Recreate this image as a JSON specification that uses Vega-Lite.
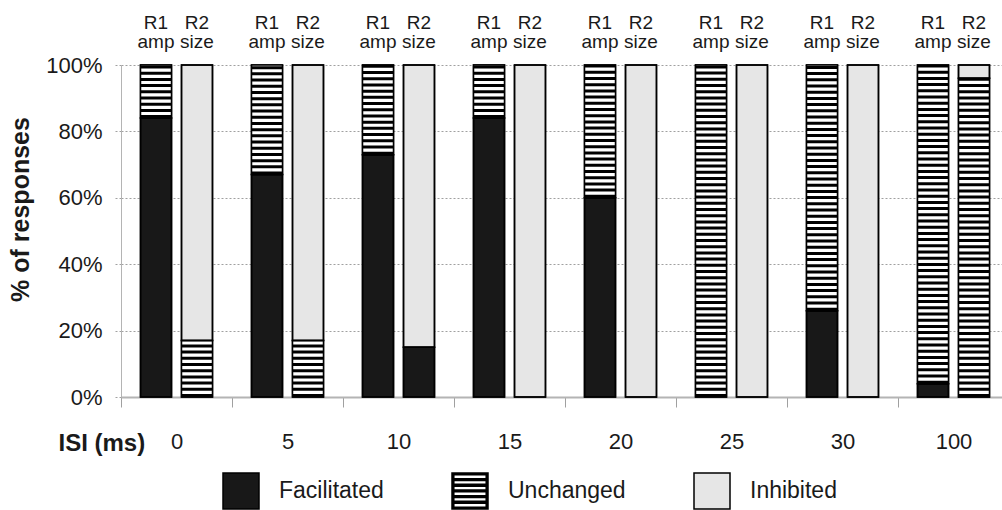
{
  "$schema": "https://vega.github.io/schema/vega-lite/v6.json",
  "width": 881,
  "height": 332,
  "autosize": "none",
  "padding": {"left": 121, "top": 65, "right": 0, "bottom": 113},
  "background": "white",
  "config": {
    "font": "Liberation Sans",
    "view": {"stroke": null},
    "legend": {
      "orient": "none",
      "legendX": 101,
      "legendY": 407,
      "direction": "horizontal",
      "padding": 0,
      "symbolSize": 1296,
      "symbolStrokeWidth": 1.5,
      "symbolOpacity": 1,
      "labelFontSize": 23,
      "labelColor": "#1a1a1a",
      "labelOffset": 19,
      "columnPadding": 65
    }
  },
  "datasets": {
    "bars": [
      {"isi": 0, "measure": "R1 amp", "response": "Facilitated", "pct": 84},
      {"isi": 0, "measure": "R1 amp", "response": "Unchanged", "pct": 16},
      {"isi": 0, "measure": "R2 size", "response": "Unchanged", "pct": 17},
      {"isi": 0, "measure": "R2 size", "response": "Inhibited", "pct": 83},
      {"isi": 5, "measure": "R1 amp", "response": "Facilitated", "pct": 67},
      {"isi": 5, "measure": "R1 amp", "response": "Unchanged", "pct": 33},
      {"isi": 5, "measure": "R2 size", "response": "Unchanged", "pct": 17},
      {"isi": 5, "measure": "R2 size", "response": "Inhibited", "pct": 83},
      {"isi": 10, "measure": "R1 amp", "response": "Facilitated", "pct": 73},
      {"isi": 10, "measure": "R1 amp", "response": "Unchanged", "pct": 27},
      {"isi": 10, "measure": "R2 size", "response": "Facilitated", "pct": 15},
      {"isi": 10, "measure": "R2 size", "response": "Inhibited", "pct": 85},
      {"isi": 15, "measure": "R1 amp", "response": "Facilitated", "pct": 84},
      {"isi": 15, "measure": "R1 amp", "response": "Unchanged", "pct": 16},
      {"isi": 15, "measure": "R2 size", "response": "Inhibited", "pct": 100},
      {"isi": 20, "measure": "R1 amp", "response": "Facilitated", "pct": 60},
      {"isi": 20, "measure": "R1 amp", "response": "Unchanged", "pct": 40},
      {"isi": 20, "measure": "R2 size", "response": "Inhibited", "pct": 100},
      {"isi": 25, "measure": "R1 amp", "response": "Unchanged", "pct": 100},
      {"isi": 25, "measure": "R2 size", "response": "Inhibited", "pct": 100},
      {"isi": 30, "measure": "R1 amp", "response": "Facilitated", "pct": 26},
      {"isi": 30, "measure": "R1 amp", "response": "Unchanged", "pct": 74},
      {"isi": 30, "measure": "R2 size", "response": "Inhibited", "pct": 100},
      {"isi": 100, "measure": "R1 amp", "response": "Facilitated", "pct": 4},
      {"isi": 100, "measure": "R1 amp", "response": "Unchanged", "pct": 96},
      {"isi": 100, "measure": "R2 size", "response": "Unchanged", "pct": 96},
      {"isi": 100, "measure": "R2 size", "response": "Inhibited", "pct": 4}
    ],
    "labels": [
      {"isi": 0, "measure": "R1 amp"}, {"isi": 0, "measure": "R2 size"},
      {"isi": 5, "measure": "R1 amp"}, {"isi": 5, "measure": "R2 size"},
      {"isi": 10, "measure": "R1 amp"}, {"isi": 10, "measure": "R2 size"},
      {"isi": 15, "measure": "R1 amp"}, {"isi": 15, "measure": "R2 size"},
      {"isi": 20, "measure": "R1 amp"}, {"isi": 20, "measure": "R2 size"},
      {"isi": 25, "measure": "R1 amp"}, {"isi": 25, "measure": "R2 size"},
      {"isi": 30, "measure": "R1 amp"}, {"isi": 30, "measure": "R2 size"},
      {"isi": 100, "measure": "R1 amp"}, {"isi": 100, "measure": "R2 size"}
    ]
  },
  "encoding": {
    "x": {
      "field": "isi",
      "type": "ordinal",
      "scale": {"range": [0, 888], "paddingInner": 0, "paddingOuter": 0},
      "axis": {
        "title": "ISI (ms)",
        "labelAngle": 0,
        "labelFontSize": 22,
        "labelColor": "#1a1a1a",
        "labelPadding": 24,
        "tickBand": "extent",
        "tickSize": 10,
        "tickColor": "#a0a0a0",
        "domainColor": "#b4b4b4",
        "domainWidth": 2,
        "grid": false,
        "titleFontSize": 24,
        "titleFontWeight": "bold",
        "titleColor": "#1a1a1a",
        "titleX": -63,
        "titleY": 46,
        "titleAlign": "left",
        "titleBaseline": "middle"
      }
    },
    "xOffset": {
      "field": "measure",
      "type": "nominal",
      "scale": {"paddingInner": 0.244, "paddingOuter": 0.476}
    }
  },
  "layer": [
    {
      "data": {"name": "bars"},
      "transform": [{"stack": "pct", "groupby": ["isi", "measure"], "as": ["y0", "y1"]}],
      "mark": {"type": "bar", "stroke": "#000000", "strokeWidth": 1.5},
      "encoding": {
        "y": {
          "field": "y0",
          "type": "quantitative",
          "scale": {"domain": [0, 100], "nice": false},
          "axis": {
            "title": "% of responses",
            "values": [0, 20, 40, 60, 80, 100],
            "labelExpr": "datum.value + '%'",
            "labelFontSize": 22,
            "labelColor": "#1a1a1a",
            "labelPadding": 12,
            "tickSize": 7,
            "tickColor": "#a0a0a0",
            "tickDash": [2, 2],
            "domainColor": "#b4b4b4",
            "domainWidth": 1,
            "grid": true,
            "gridColor": "#a0a0a0",
            "gridDash": [2, 2],
            "titleFontSize": 25,
            "titleFontWeight": "bold",
            "titleColor": "#1a1a1a",
            "titleX": -101,
            "titleY": 144,
            "titleAlign": "center",
            "titleBaseline": "middle"
          }
        },
        "y2": {"field": "y1"},
        "fill": {
          "field": "response",
          "type": "nominal",
          "scale": {"domain": ["Facilitated", "Unchanged", "Inhibited"], "range": ["#181818", "#000000", "#e6e6e6"]},
          "legend": {"title": null}
        }
      }
    },
    {
      "data": {"name": "bars"},
      "transform": [
        {"stack": "pct", "groupby": ["isi", "measure"], "as": ["y0", "y1"]},
        {"filter": "datum.response === 'Unchanged'"}
      ],
      "mark": {"type": "rule", "strokeWidth": 31, "strokeDash": [3.2, 3], "strokeDashOffset": 3.2, "color": "#ffffff"},
      "encoding": {
        "y": {"field": "y0", "type": "quantitative"},
        "y2": {"field": "y1"}
      }
    },
    {
      "data": {"name": "bars"},
      "transform": [{"stack": "pct", "groupby": ["isi", "measure"], "as": ["y0", "y1"]}],
      "mark": {"type": "bar", "fill": "transparent", "stroke": "#000000", "strokeWidth": 1.5},
      "encoding": {
        "y": {"field": "y0", "type": "quantitative"},
        "y2": {"field": "y1"}
      }
    },
    {
      "data": {"name": "bars"},
      "transform": [{"filter": "datum.pct < 0"}],
      "mark": {"type": "point", "filled": true, "strokeWidth": 1.5, "opacity": 1},
      "encoding": {
        "y": {"field": "pct", "type": "quantitative"},
        "fill": {
          "field": "response",
          "type": "nominal",
          "legend": {"title": null}
        },
        "stroke": {
          "field": "response",
          "type": "nominal",
          "scale": {"domain": ["Facilitated", "Unchanged", "Inhibited"], "range": ["#000000", "#000000", "#000000"]},
          "legend": {"title": null}
        },
        "shape": {
          "field": "response",
          "type": "nominal",
          "scale": {
            "domain": ["Facilitated", "Unchanged", "Inhibited"],
            "range": ["square", "M-1,-1H1V-0.9H-1Z M-1,-0.685H1V-0.585H-1Z M-1,-0.37H1V-0.27H-1Z M-1,-0.055H1V0.045H-1Z M-1,0.26H1V0.36H-1Z M-1,0.575H1V0.675H-1Z M-1,0.9H1V1H-1Z M-1,-1H-0.9V1H-1Z M0.9,-1H1V1H0.9Z", "square"]
          },
          "legend": {"title": null}
        }
      }
    },
    {
      "data": {"name": "labels"},
      "mark": {"type": "text", "fontSize": 19, "lineHeight": 19, "lineBreak": " ", "baseline": "alphabetic", "align": "center", "dy": -36, "color": "#1a1a1a"},
      "encoding": {
        "y": {"datum": 100, "type": "quantitative"},
        "text": {"field": "measure", "type": "nominal"}
      }
    }
  ]
}
